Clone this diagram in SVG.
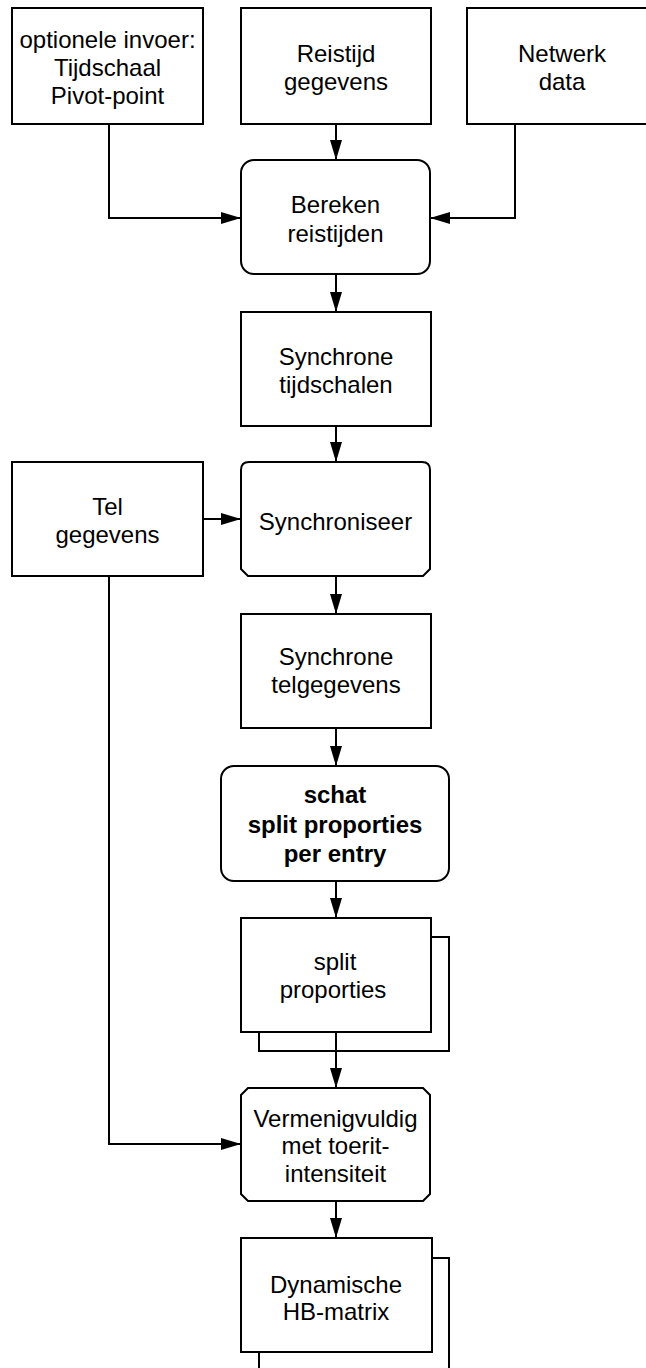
<svg xmlns="http://www.w3.org/2000/svg" width="646" height="1368" viewBox="0 0 646 1368">
  <style>
    .box { fill: #ffffff; stroke: #000000; stroke-width: 2; }
    .lbl { font-family: "Liberation Sans", Arial, sans-serif; font-size: 24px; fill: #000000; text-anchor: middle; }
    .bold { font-weight: bold; }
    .wire { fill: none; stroke: #000000; stroke-width: 2; }
  </style>
  <defs>
    <marker id="arrow" markerUnits="userSpaceOnUse" markerWidth="22" markerHeight="14" refX="20" refY="6" orient="auto">
      <path d="M0,0 L20,6 L0,12 Z" fill="#000000"/>
    </marker>
  </defs>

  <rect width="646" height="1368" fill="#ffffff"/>

  <!-- input: optional settings -->
  <g id="optionele-invoer">
    <rect class="box" x="12" y="8" width="191" height="116"/>
    <text class="lbl" x="107.5" y="48">optionele invoer:</text>
    <text class="lbl" x="107.5" y="76">Tijdschaal</text>
    <text class="lbl" x="107.5" y="104">Pivot-point</text>
  </g>

  <!-- input: travel time data -->
  <g id="reistijd-gegevens">
    <rect class="box" x="241" y="8" width="190" height="116"/>
    <text class="lbl" x="336" y="62">Reistijd</text>
    <text class="lbl" x="336" y="90">gegevens</text>
  </g>

  <!-- input: network data -->
  <g id="netwerk-data">
    <rect class="box" x="467" y="8" width="190" height="116"/>
    <text class="lbl" x="562" y="62">Netwerk</text>
    <text class="lbl" x="562" y="90">data</text>
  </g>

  <!-- process: compute travel times -->
  <g id="bereken-reistijden">
    <rect class="box" x="241" y="160" width="189" height="114" rx="13" ry="13"/>
    <text class="lbl" x="335.5" y="213">Bereken</text>
    <text class="lbl" x="335.5" y="242">reistijden</text>
  </g>

  <!-- data: synchronous time scales -->
  <g id="synchrone-tijdschalen">
    <rect class="box" x="241" y="312" width="190" height="114"/>
    <text class="lbl" x="336" y="365">Synchrone</text>
    <text class="lbl" x="336" y="393">tijdschalen</text>
  </g>

  <!-- input: count data -->
  <g id="tel-gegevens">
    <rect class="box" x="12" y="462" width="191" height="114"/>
    <text class="lbl" x="107.5" y="515">Tel</text>
    <text class="lbl" x="107.5" y="543">gegevens</text>
  </g>

  <!-- process: synchronise -->
  <g id="synchroniseer">
    <path class="box" d="M249,462 H422 Q430,462 430,470 V569 L423,576 H248 L241,569 V470 Q241,462 249,462 Z"/>
    <text class="lbl" x="335.5" y="530">Synchroniseer</text>
  </g>

  <!-- data: synchronous count data -->
  <g id="synchrone-telgegevens">
    <rect class="box" x="241" y="614" width="190" height="114"/>
    <text class="lbl" x="336" y="665">Synchrone</text>
    <text class="lbl" x="336" y="693">telgegevens</text>
  </g>

  <!-- process: estimate split proportions -->
  <g id="schat-split">
    <rect class="box" x="221" y="766" width="228" height="115" rx="13" ry="13"/>
    <text class="lbl bold" x="335" y="803">schat</text>
    <text class="lbl bold" x="335" y="833">split proporties</text>
    <text class="lbl bold" x="335" y="862">per entry</text>
  </g>

  <!-- data: split proportions (multiple) -->
  <g id="split-proporties">
    <rect class="box" x="259" y="937" width="190" height="114"/>
    <rect class="box" x="241" y="918" width="190" height="114"/>
    <text class="lbl" x="335" y="970">split</text>
    <text class="lbl" x="333" y="998">proporties</text>
  </g>

  <!-- process: multiply with on-ramp intensity -->
  <g id="vermenigvuldig">
    <path class="box" d="M248,1088 H423 L430,1095 V1194 L423,1201 H248 L241,1194 V1095 Z"/>
    <text class="lbl" x="335.5" y="1127">Vermenigvuldig</text>
    <text class="lbl" x="335.5" y="1154">met toerit-</text>
    <text class="lbl" x="335.5" y="1182">intensiteit</text>
  </g>

  <!-- data: dynamic OD matrix (multiple) -->
  <g id="dynamische-hb-matrix">
    <rect class="box" x="259" y="1258" width="190" height="114"/>
    <rect class="box" x="241" y="1238" width="191" height="114"/>
    <text class="lbl" x="336" y="1293">Dynamische</text>
    <text class="lbl" x="336" y="1320">HB-matrix</text>
  </g>

  <!-- connectors -->
  <g id="connectors" class="wire">
    <path class="wire" d="M336,124 V160" marker-end="url(#arrow)"/>
    <path class="wire" d="M109,124 V218 H241" marker-end="url(#arrow)"/>
    <path class="wire" d="M515,124 V218 H430" marker-end="url(#arrow)"/>
    <path class="wire" d="M336,274 V312" marker-end="url(#arrow)"/>
    <path class="wire" d="M336,426 V462" marker-end="url(#arrow)"/>
    <path class="wire" d="M203,519 H241" marker-end="url(#arrow)"/>
    <path class="wire" d="M336,576 V614" marker-end="url(#arrow)"/>
    <path class="wire" d="M336,728 V766" marker-end="url(#arrow)"/>
    <path class="wire" d="M336,881 V918" marker-end="url(#arrow)"/>
    <path class="wire" d="M336,1032 V1088" marker-end="url(#arrow)"/>
    <path class="wire" d="M109,576 V1144 H241" marker-end="url(#arrow)"/>
    <path class="wire" d="M336,1201 V1238" marker-end="url(#arrow)"/>
  </g>
</svg>
